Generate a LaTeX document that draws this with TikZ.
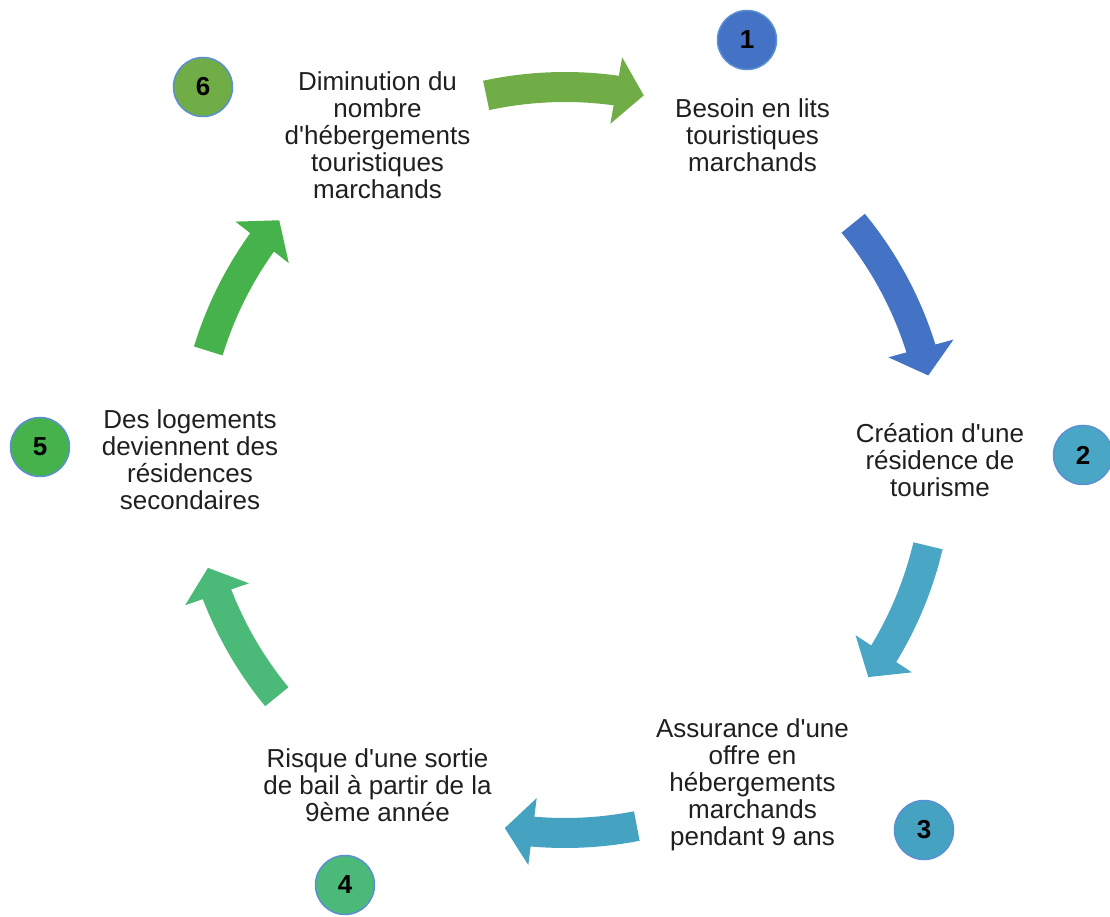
\documentclass[tikz,border=0pt]{standalone}
\usepackage{fontspec}
\setmainfont{Liberation Sans}
\usetikzlibrary{arrows.meta,bending}
\definecolor{greenA}{HTML}{70AD47}
\definecolor{blueA}{HTML}{4472C4}
\definecolor{tealA}{HTML}{4AA6C5}
\definecolor{tealB}{HTML}{45A3C1}
\definecolor{mintA}{HTML}{4BBA78}
\definecolor{greenB}{HTML}{46B24B}
\definecolor{numline}{HTML}{5B8FD3}

\begin{document}
\begin{tikzpicture}[x=1pt,y=1pt,
  txt/.style={align=center,text=black!88,font=\fontsize{26}{27}\selectfont},
  num/.style={circle,draw=numline,line width=1.5pt,minimum size=59pt,inner sep=0pt,font=\fontsize{26}{26}\selectfont\bfseries},
  cyc/.style={line width=30pt,-{Triangle[length=28pt,width=66pt]}}]
\useasboundingbox (-565,-457) rectangle (545,460);
\node[txt] (besoin) at (60:375) {Besoin en lits\\touristiques\\marchands};
\node[txt] (creation) at (0:375) {Création d\textquotesingle une\\résidence de\\tourisme};
\node[txt] (assurance) at (-60:375) {Assurance d\textquotesingle une\\offre en\\hébergements\\marchands\\pendant 9 ans};
\node[txt] (risque) at (-120:375) {Risque d\textquotesingle une sortie\\de bail à partir de la\\9ème année};
\node[txt] (logements) at (180:375) {Des logements\\deviennent des\\résidences\\secondaires};
\node[txt] (diminution) at (120:375) {Diminution du\\nombre\\d\textquotesingle hébergements\\touristiques\\marchands};
\node[num,fill=blueA] (n1) at (182,420) {1};
\node[num,fill=tealA] (n2) at (518,5) {2};
\node[num,fill=tealB] (n3) at (359,-370) {3};
\node[num,fill=mintA] (n4) at (-220,-425) {4};
\node[num,fill=greenB] (n5) at (-525,13) {5};
\node[num,fill=greenA] (n6) at (-362,373) {6};
\coordinate (a61) at (102.2:373);
\coordinate (a12) at (39.4:373);
\coordinate (a23) at (-13.3:373);
\coordinate (a34) at (-78.9:373);
\coordinate (a45) at (-140.6:373);
\coordinate (a56) at (163:373);
\draw[cyc,greenA] (a61) arc[start angle=102.2,end angle=77.8,radius=373];
\draw[cyc,blueA] (a12) arc[start angle=39.4,end angle=13.1,radius=373];
\draw[cyc,tealA] (a23) arc[start angle=-13.3,end angle=-35.6,radius=373];
\draw[cyc,tealB] (a34) arc[start angle=-78.9,end angle=-99.3,radius=373];
\draw[cyc,mintA] (a45) arc[start angle=-140.6,end angle=-163.2,radius=373];
\draw[cyc,greenB] (a56) arc[start angle=163,end angle=140,radius=373];
\end{tikzpicture}
\end{document}
